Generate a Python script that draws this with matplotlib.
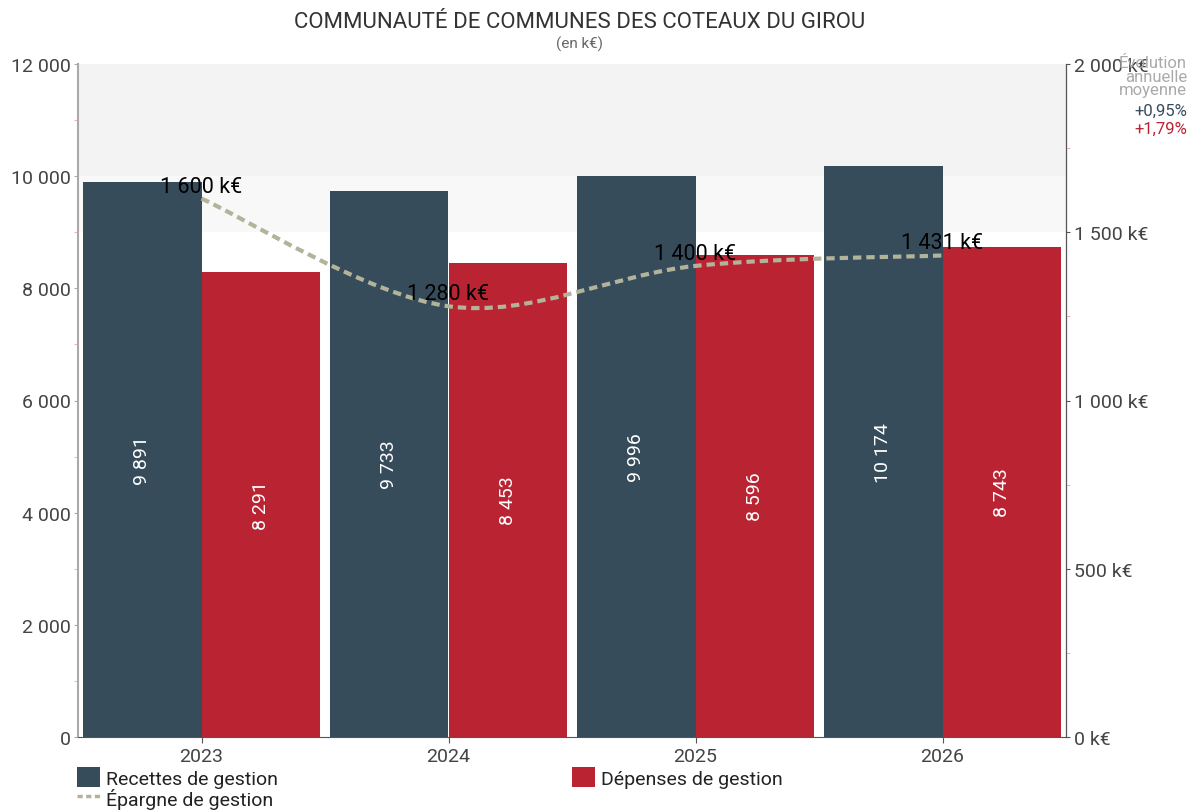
import numpy as np
import matplotlib.pyplot as plt
from matplotlib.path import Path
from matplotlib.patches import PathPatch
from matplotlib.lines import Line2D
from matplotlib.patches import Patch
from matplotlib.ticker import FuncFormatter, MultipleLocator

# Données (k€)
annees = ["2023", "2024", "2025", "2026"]
recettes = [9891, 9733, 9996, 10174]
depenses = [8291, 8453, 8596, 8743]
epargne = [1600, 1280, 1400, 1431]
evol_recettes = "+0,95%"
evol_depenses = "+1,79%"

c_rec = "#364c5b"
c_dep = "#ba2332"
c_epa = "#b3b39a"
c_txt = "#444444"

plt.rcParams["font.family"] = ["Roboto", "DejaVu Sans"]
fontsize = 14

fig = plt.figure(figsize=(11.89, 8.12), dpi=100)
ax = fig.add_axes([78 / 1189, 1 - 738 / 812, 988 / 1189, 673 / 812])
ax2 = ax.twinx()

x = np.arange(len(annees))
w = 0.478

# bandes de fond
ax.axhspan(10000, 12000, color="#f3f3f3", zorder=0, lw=0)
ax.axhspan(9000, 10000, color="#f8f8f8", zorder=0, lw=0)

ax.bar(x - w / 2, recettes, w, color=c_rec, zorder=2)
ax.bar(x + w / 2, depenses, w, color=c_dep, zorder=2)

for i in range(len(annees)):
    ax.text(x[i] - w / 2, recettes[i] / 2, f"{recettes[i]:,}".replace(",", " "),
            rotation=90, ha="center", va="center", color="white", fontsize=fontsize, zorder=3)
    ax.text(x[i] + w / 2, depenses[i] / 2, f"{depenses[i]:,}".replace(",", " "),
            rotation=90, ha="center", va="center", color="white", fontsize=fontsize, zorder=3)

ax.set_xlim(-0.5, 3.5)
ax.set_ylim(0, 12000)
ax2.set_ylim(0, 2000)

# courbe lissée de l'épargne (Catmull-Rom -> Bézier)
pts = np.column_stack([x, epargne]).astype(float)
verts = [pts[0]]
codes = [Path.MOVETO]
for i in range(len(pts) - 1):
    p0 = pts[i - 1] if i > 0 else pts[i]
    p1, p2 = pts[i], pts[i + 1]
    p3 = pts[i + 2] if i + 2 < len(pts) else pts[i + 1]
    verts += [p1 + (p2 - p0) / 6, p2 - (p3 - p1) / 6, p2]
    codes += [Path.CURVE4] * 3
ax2.add_patch(PathPatch(Path(verts, codes), fill=False, edgecolor=c_epa,
                        lw=3, linestyle=(0, (2.0, 1.2)), zorder=4))
for i in range(len(annees)):
    ax2.text(x[i], epargne[i] + 6, f"{epargne[i]:,} k€".replace(",", " "),
             ha="center", va="bottom", color="black", fontsize=15.5, zorder=5)

# axes
fmt = FuncFormatter(lambda v, p: f"{int(v):,}".replace(",", " "))
ax.yaxis.set_major_locator(MultipleLocator(2000))
ax.yaxis.set_minor_locator(MultipleLocator(1000))
ax.yaxis.set_major_formatter(fmt)
ax2.yaxis.set_major_locator(MultipleLocator(500))
ax2.yaxis.set_minor_locator(MultipleLocator(250))
ax2.yaxis.set_major_formatter(FuncFormatter(lambda v, p: f"{int(v):,} k€".replace(",", " ")))
ax.set_xticks(x)
ax.set_xticklabels(annees)

for a in (ax, ax2):
    a.spines["top"].set_visible(False)
ax.spines["left"].set_color("#aaaaaa")
ax.spines["left"].set_linewidth(1.5)
ax2.spines["left"].set_visible(False)
ax2.spines["right"].set_color("#555555")
ax.spines["bottom"].set_color("#555555")
ax2.spines["bottom"].set_visible(False)
ax.tick_params(axis="y", labelsize=fontsize, colors="#aaaaaa", labelcolor=c_txt, length=3, pad=2)
ax.tick_params(axis="y", which="minor", colors="#f4a0a0", length=3)
ax.tick_params(axis="x", labelsize=fontsize, colors="#555555", labelcolor=c_txt, length=4)
ax2.tick_params(axis="y", labelsize=fontsize, colors="#555555", labelcolor=c_txt, length=3, pad=3)
ax2.tick_params(axis="y", which="minor", colors="#f0a0a0", length=3)

# titres
fig.text(580 / 1189, 1 - 22 / 812, "COMMUNAUTÉ DE COMMUNES DES COTEAUX DU GIROU",
         ha="center", va="center", fontsize=16, color="#333333")
fig.text(580 / 1189, 1 - 44 / 812, "(en k€)", ha="center", va="center", fontsize=11, color="#666666")

# évolution annuelle moyenne
fig.text(1187 / 1189, 1 - 77 / 812, "Évolution\nannuelle\nmoyenne", ha="right", va="center",
         fontsize=12, color="#aaaaaa", linespacing=0.9)
fig.text(1187 / 1189, 1 - 111 / 812, evol_recettes, ha="right", va="center", fontsize=12, color=c_rec)
fig.text(1187 / 1189, 1 - 129 / 812, evol_depenses, ha="right", va="center", fontsize=12, color=c_dep)

# légende
h_rec = Patch(facecolor=c_rec, label="Recettes de gestion")
h_dep = Patch(facecolor=c_dep, label="Dépenses de gestion")
h_epa = Line2D([], [], color=c_epa, lw=2.5, linestyle=(0, (1.5, 1)), label="Épargne de gestion")
leg_style = dict(frameon=False, fontsize=14, handlelength=1.2, handleheight=1.2,
                 handletextpad=0.3, labelspacing=0.0, borderpad=0, borderaxespad=0,
                 labelcolor="#222222")
fig.legend(handles=[h_rec, h_epa], loc="upper left",
           bbox_to_anchor=(77 / 1189, 1 - 768 / 812), **leg_style)
fig.legend(handles=[h_dep], loc="upper left",
           bbox_to_anchor=(572 / 1189, 1 - 768 / 812), **leg_style)

fig.savefig("out.png", dpi=100)
